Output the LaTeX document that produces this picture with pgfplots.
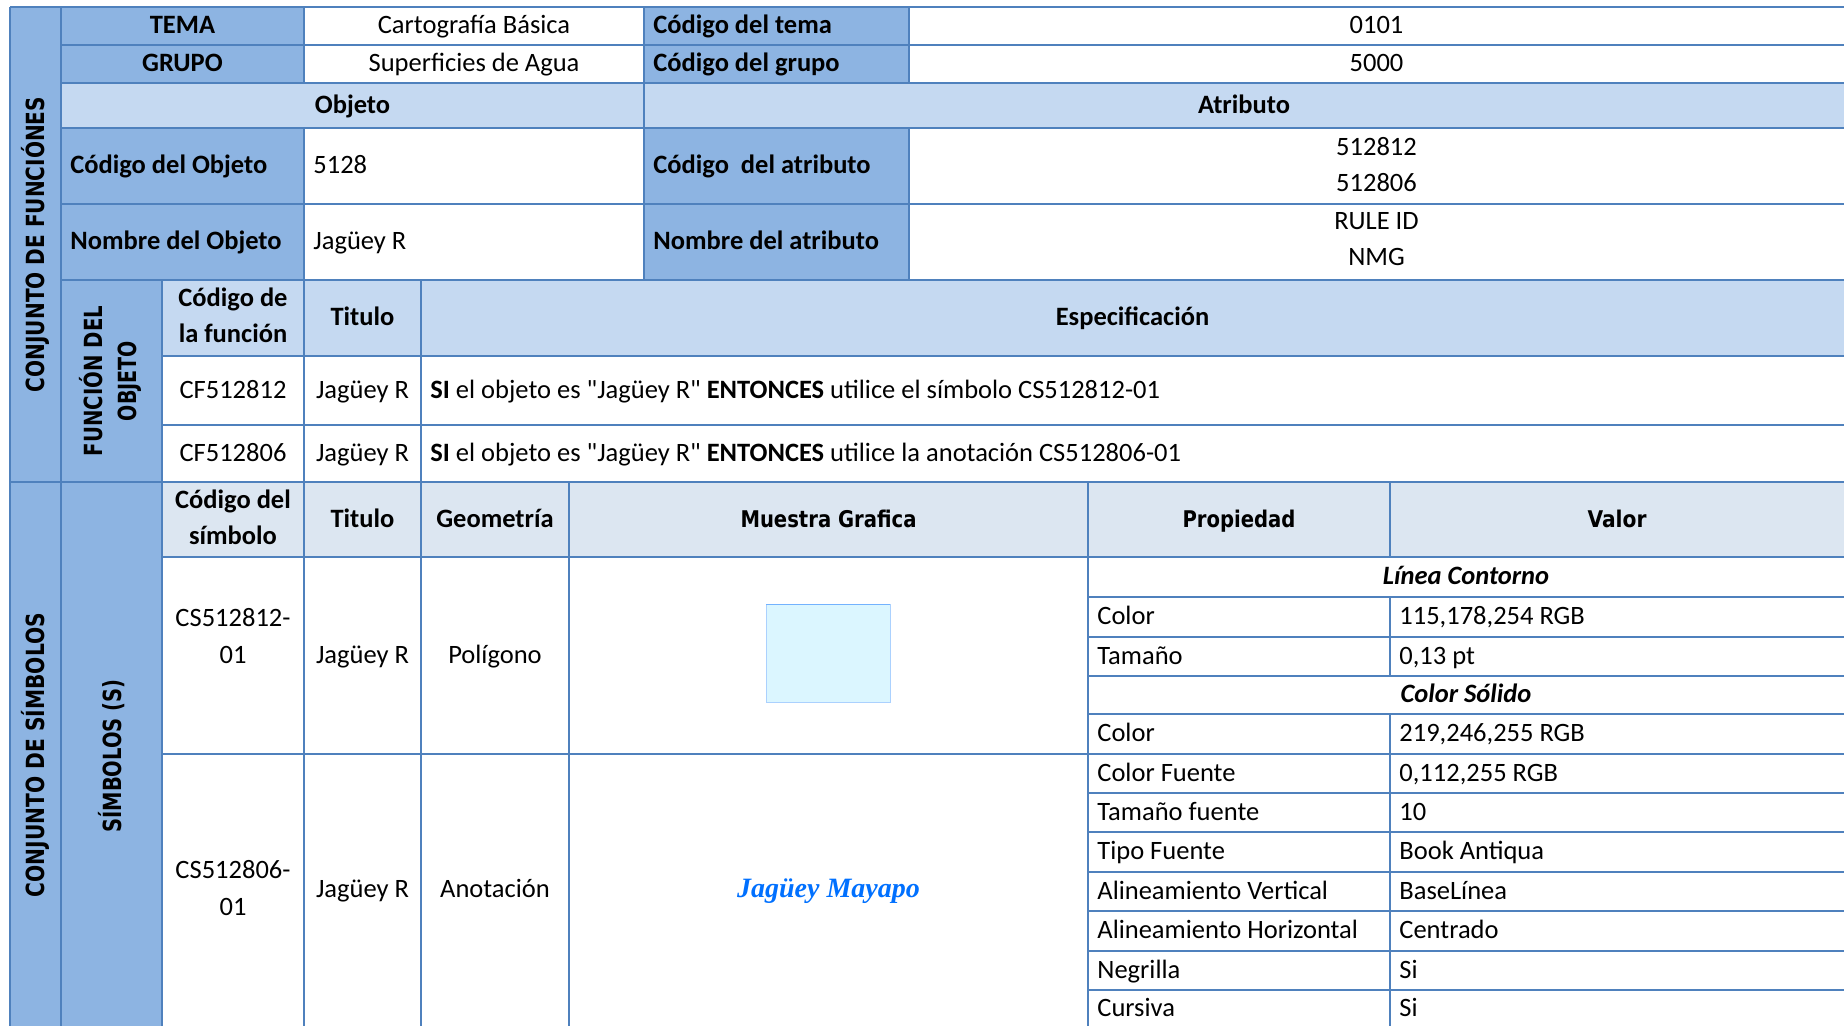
\documentclass[border=0pt]{standalone}
\usepackage{graphicx}
\usepackage{fontspec}
\setmainfont{Carlito}
\newfontfamily\carq{Carlito}[Ligatures=ResetAll]
\newfontfamily\tah{DejaVu Sans}
\newfontfamily\book{Liberation Serif}
\usepackage{pgfplots}
\pgfplotsset{compat=1.18}
\definecolor{dk}{RGB}{141,180,226}
\definecolor{lt}{RGB}{197,217,241}
\definecolor{lt2}{RGB}{220,230,241}
\definecolor{ln}{RGB}{79,129,189}
\definecolor{sfill}{RGB}{219,246,255}
\definecolor{sline}{RGB}{115,178,254}
\definecolor{ftxt}{RGB}{0,112,255}
\newcommand{\q}{{\carq\symbol{34}}}
\newcommand{\cellf}[5]{\fill[#5] (axis cs:#1,#3) rectangle (axis cs:#2,#4);}
\newcommand{\hl}[3]{\draw[ln,line width=0.9pt] (axis cs:#1,#3) -- (axis cs:#2,#3);}
\newcommand{\vl}[3]{\draw[ln,line width=0.9pt] (axis cs:#1,#2) -- (axis cs:#1,#3);}
% centered text: x, row-center y
\newcommand{\ct}[3]{\node[anchor=base,inner sep=0pt,font=\fontsize{13.25}{16}\selectfont] at (axis cs:#1,#2+7.5) {#3};}
\newcommand{\lt}[3]{\node[anchor=base west,inner sep=0pt,font=\fontsize{13.25}{16}\selectfont] at (axis cs:#1,#2+7.5) {#3};}
\newcommand{\vt}[4]{\node[rotate=90,inner sep=0pt] at (axis cs:#1,#2) {\resizebox{#3pt}{\height}{\fontsize{12.5}{14}\selectfont\tah\bfseries #4}};}
\newcommand{\hdt}[4]{\node[anchor=base,inner sep=0pt] at (axis cs:#1,#2+8.3) {\resizebox{#3pt}{\height}{\fontsize{11.5}{13}\selectfont\tah\bfseries #4}};}
\begin{document}
\begin{tikzpicture}
\begin{axis}[scale only axis, width=922pt, height=512.5pt,
  xmin=0, xmax=1844, ymin=0, ymax=1025, y dir=reverse,
  axis lines=none, ticks=none, clip=true]
\path (axis cs:0,0) rectangle (axis cs:1844,1025);
% ---------- fills
\cellf{10}{61}{7}{1030}{dk}
\cellf{61}{304}{7}{83}{dk}
\cellf{644}{909}{7}{83}{dk}
\cellf{61}{1844}{83}{128}{lt}
\cellf{61}{304}{128}{280}{dk}
\cellf{644}{909}{128}{280}{dk}
\cellf{61}{162}{280}{1030}{dk}
\cellf{162}{1844}{280}{356}{lt}
\cellf{162}{1844}{482}{557}{lt2}
% symbol sample
\fill[sfill] (axis cs:766,604) rectangle (axis cs:890,702);
\draw[sline!60,line width=0.4pt] (axis cs:766,604) rectangle (axis cs:890,702);
\draw[sline,line width=0.8pt] (axis cs:766,604.5) -- (axis cs:890,604.5);
% ---------- horizontal lines
\hl{10}{1844}{7}
\hl{61}{1844}{45}
\hl{61}{1844}{83}
\hl{61}{1844}{128}
\hl{61}{1844}{204}
\hl{61}{1844}{280}
\hl{162}{1844}{356}
\hl{162}{1844}{425}
\hl{10}{1844}{482}
\hl{162}{1844}{557}
\hl{162}{1844}{754}
\hl{1088}{1844}{597}
\hl{1088}{1844}{637}
\hl{1088}{1844}{676}
\hl{1088}{1844}{714}
\hl{1088}{1844}{793}
\hl{1088}{1844}{832}
\hl{1088}{1844}{872}
\hl{1088}{1844}{911}
\hl{1088}{1844}{951}
\hl{1088}{1844}{990}
% ---------- vertical lines
\vl{10}{7}{1030}
\vl{61}{7}{1030}
\vl{162}{280}{1030}
\vl{304}{7}{83}
\vl{304}{128}{1030}
\vl{421}{280}{1030}
\vl{569}{482}{1030}
\vl{644}{7}{280}
\vl{909}{7}{83}
\vl{909}{128}{280}
\vl{1088}{482}{1030}
\vl{1390}{482}{557}
\vl{1390}{597}{676}
\vl{1390}{714}{1030}
% ---------- vertical texts
\vt{35.5}{244.5}{147.5}{CONJUNTO DE FUNCIÓNES}
\vt{35.5}{755}{142}{CONJUNTO DE SÍMBOLOS}
\vt{91.5}{381}{75}{FUNCIÓN DEL}
\vt{129.5}{381}{40}{OBJETO}
\vt{111.5}{756}{76.5}{SÍMBOLOS (S)}
% ---------- header block
\ct{182.5}{26}{\bfseries TEMA}
\ct{474}{26}{Cartografía Básica}
\lt{653}{26}{\bfseries Código del tema}
\ct{1376.5}{26}{0101}
\ct{182.5}{64}{\bfseries GRUPO}
\ct{474}{64}{Superficies de Agua}
\lt{653}{64}{\bfseries Código del grupo}
\ct{1376.5}{64}{5000}
\ct{352.5}{105.5}{\bfseries Objeto}
\ct{1244}{105.5}{\bfseries Atributo}
\lt{70}{166}{\bfseries Código del Objeto}
\lt{313}{166}{5128}
\lt{653}{166}{\bfseries Código\ \ del atributo}
\ct{1376.5}{148}{512812}
\ct{1376.5}{184}{512806}
\lt{70}{242}{\bfseries Nombre del Objeto}
\lt{313}{242}{Jagüey R}
\lt{653}{242}{\bfseries Nombre del atributo}
\ct{1376.5}{222}{RULE ID}
\ct{1376.5}{258}{NMG}
% ---------- function block
\ct{233}{299}{\bfseries Código de}
\ct{233}{335}{\bfseries la función}
\ct{362.5}{318}{\bfseries Titulo}
\ct{1132.5}{318}{\bfseries Especificación}
\ct{233}{390.5}{CF512812}
\ct{362.5}{390.5}{Jagüey R}
\lt{430}{390.5}{\textbf{SI} el objeto es \q Jagüey R\q{} \textbf{ENTONCES} utilice el símbolo CS512812-01}
\ct{233}{453.5}{CF512806}
\ct{362.5}{453.5}{Jagüey R}
\lt{430}{453.5}{\textbf{SI} el objeto es \q Jagüey R\q{} \textbf{ENTONCES} utilice la anotación CS512806-01}
% ---------- symbol block header
\ct{233}{501}{\bfseries Código del}
\ct{233}{537}{\bfseries símbolo}
\ct{362.5}{519.5}{\bfseries Titulo}
\ct{495}{519.5}{\bfseries Geometría}
\hdt{828.5}{519.5}{88}{Muestra Grafica}
\hdt{1239}{519.5}{56.5}{Propiedad}
\hdt{1617}{519.5}{29.5}{Valor}
% ---------- symbol rows
\ct{233}{618.5}{CS512812-}
\ct{233}{655.5}{01}
\ct{362.5}{655.5}{Jagüey R}
\ct{495}{655.5}{Polígono}
\ct{233}{871}{CS512806-}
\ct{233}{908}{01}
\ct{362.5}{890}{Jagüey R}
\ct{495}{890}{Anotación}
\node[anchor=base,inner sep=0pt,text=ftxt,font=\fontsize{14}{16}\selectfont\book\bfseries\itshape] at (axis cs:828.5,897) {Jagüey Mayapo};
% ---------- properties
\ct{1466}{577}{\bfseries\itshape Línea Contorno}
\lt{1097}{617}{Color}\lt{1399}{617}{115,178,254 RGB}
\lt{1097}{656.5}{Tamaño}\lt{1399}{656.5}{0,13 pt}
\ct{1466}{695}{\bfseries\itshape Color Sólido}
\lt{1097}{734}{Color}\lt{1399}{734}{219,246,255 RGB}
\lt{1097}{773.5}{Color Fuente}\lt{1399}{773.5}{0,112,255 RGB}
\lt{1097}{812.5}{Tamaño fuente}\lt{1399}{812.5}{10}
\lt{1097}{852}{Tipo Fuente}\lt{1399}{852}{Book Antiqua}
\lt{1097}{891.5}{Alineamiento Vertical}\lt{1399}{891.5}{BaseLínea}
\lt{1097}{931}{Alineamiento Horizontal}\lt{1399}{931}{Centrado}
\lt{1097}{970.5}{Negrilla}\lt{1399}{970.5}{Si}
\lt{1097}{1009}{Cursiva}\lt{1399}{1009}{Si}
\end{axis}
\end{tikzpicture}
\end{document}
